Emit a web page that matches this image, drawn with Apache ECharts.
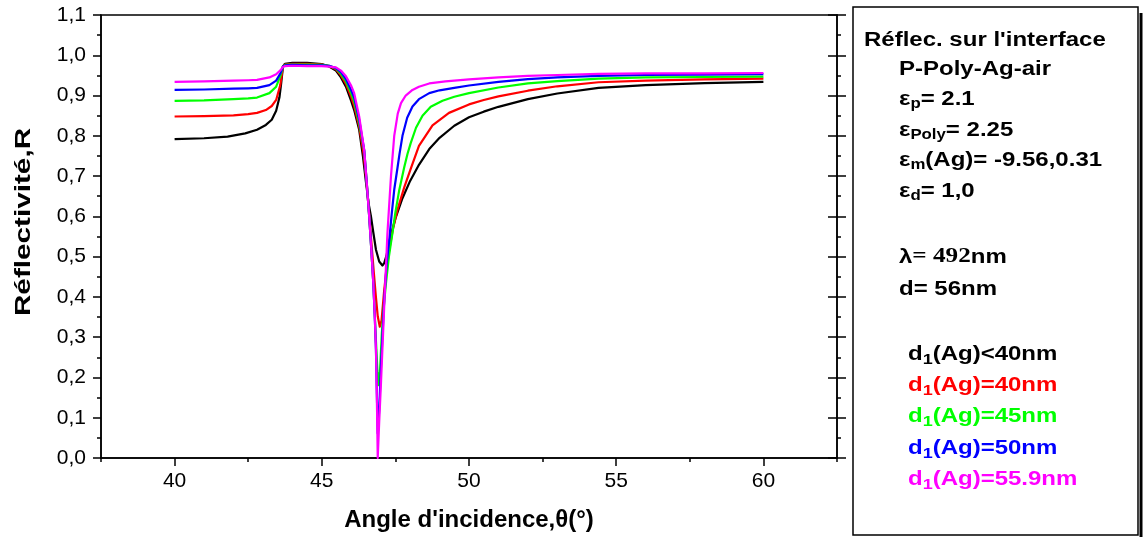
<!DOCTYPE html>
<html>
<head>
<meta charset="utf-8">
<script src="https://cdn.jsdelivr.net/npm/echarts@6/dist/echarts.min.js"></script>
<style>
html,body{margin:0;padding:0;background:#fff;}
#chart{width:1144px;height:537px;}
</style>
</head>
<body>
<div id="chart"></div>
<script>
// ---- data ----
const angleTicks = [40, 45, 50, 55, 60];
const angleMinorTicks = [37.5, 42.5, 47.5, 52.5, 57.5, 62.5];
const reflTickLabels = ['0,0','0,1','0,2','0,3','0,4','0,5','0,6','0,7','0,8','0,9','1,0','1,1'];

const seriesNames = ['d1(Ag)<40nm', 'd1(Ag)=40nm', 'd1(Ag)=45nm', 'd1(Ag)=50nm', 'd1(Ag)=55.9nm'];
const seriesColors = ['#000000', '#ff0000', '#00ff00', '#0000ff', '#ff00ff'];

const curveBlack = [
  [40,0.792],[41,0.794],[41.8,0.798],[42.4,0.806],[42.8,0.815],[43.1,0.827],[43.3,0.840],[43.45,0.862],
  [43.56,0.895],[43.62,0.930],[43.68,0.972],[43.75,0.979],[44,0.981],[44.5,0.981],[45,0.978],[45.25,0.972],
  [45.48,0.962],[45.65,0.945],[45.82,0.922],[46.0,0.886],[46.1,0.864],[46.27,0.815],[46.4,0.748],[46.5,0.685],
  [46.6,0.628],[46.67,0.600],[46.75,0.560],[46.84,0.517],[46.95,0.488],[47.06,0.478],[47.12,0.484],[47.2,0.503],
  [47.3,0.540],[47.5,0.595],[47.74,0.645],[48.0,0.688],[48.3,0.728],[48.65,0.767],[49.0,0.795],[49.5,0.825],
  [50,0.846],[50.5,0.860],[51,0.872],[52,0.891],[53,0.905],[54.4,0.919],[56,0.926],[58,0.931],[60,0.934]
];
const curveRed = [
  [40,0.848],[41,0.849],[42,0.851],[42.5,0.854],[42.8,0.857],[43.1,0.864],[43.3,0.874],[43.45,0.889],
  [43.59,0.926],[43.68,0.972],[43.75,0.977],[44,0.979],[44.5,0.979],[45,0.977],[45.25,0.973],[45.48,0.965],
  [45.65,0.950],[45.82,0.929],[46.0,0.896],[46.1,0.874],[46.27,0.823],[46.42,0.755],[46.52,0.685],[46.61,0.605],
  [46.69,0.530],[46.77,0.458],[46.84,0.398],[46.9,0.352],[46.97,0.326],[47.03,0.342],[47.12,0.417],[47.2,0.470],
  [47.29,0.517],[47.42,0.570],[47.57,0.616],[47.8,0.672],[48.02,0.718],[48.3,0.775],[48.76,0.826],[49.32,0.857],
  [50,0.878],[50.5,0.889],[51,0.898],[52,0.912],[53,0.923],[54.4,0.933],[56,0.937],[58,0.940],[60,0.942]
];
const curveGreen = [
  [40,0.887],[41,0.888],[42,0.891],[42.5,0.893],[42.8,0.895],[43.22,0.906],[43.45,0.922],[43.6,0.950],
  [43.68,0.972],[43.75,0.976],[44,0.977],[44.5,0.977],[45,0.976],[45.25,0.974],[45.48,0.967],[45.65,0.954],
  [45.82,0.935],[46.0,0.905],[46.1,0.885],[46.27,0.831],[46.44,0.762],[46.52,0.690],[46.61,0.600],[46.68,0.520],
  [46.75,0.434],[46.8,0.355],[46.84,0.290],[46.89,0.215],[46.93,0.181],[46.98,0.220],[47.04,0.310],[47.11,0.380],
  [47.18,0.434],[47.28,0.500],[47.4,0.559],[47.5,0.610],[47.63,0.665],[47.8,0.722],[47.91,0.755],[48.02,0.782],
  [48.2,0.820],[48.42,0.850],[48.7,0.872],[49.1,0.887],[49.5,0.897],[50,0.906],[51,0.920],[52,0.930],
  [53,0.936],[54.4,0.942],[56,0.945],[58,0.946],[60,0.947]
];
const curveBlue = [
  [40,0.914],[41,0.915],[42,0.917],[42.5,0.918],[42.8,0.919],[43.22,0.926],[43.45,0.937],[43.6,0.956],
  [43.68,0.972],[43.75,0.975],[44,0.976],[44.5,0.975],[45,0.975],[45.25,0.974],[45.48,0.968],[45.65,0.958],
  [45.82,0.941],[46.0,0.913],[46.1,0.895],[46.27,0.840],[46.44,0.765],[46.52,0.690],[46.61,0.600],[46.68,0.520],
  [46.75,0.434],[46.8,0.350],[46.84,0.268],[46.87,0.160],[46.9,0.061],[46.95,0.120],[47.01,0.227],[47.12,0.392],
  [47.2,0.480],[47.29,0.541],[47.38,0.610],[47.46,0.666],[47.57,0.720],[47.64,0.755],[47.74,0.800],[47.9,0.845],
  [48.08,0.873],[48.3,0.891],[48.65,0.906],[49,0.913],[49.5,0.919],[50,0.925],[51,0.934],[52,0.941],
  [53,0.945],[54.4,0.949],[56,0.951],[58,0.952],[60,0.953]
];
const curveMagenta = [
  [40,0.934],[41,0.935],[42,0.937],[42.5,0.938],[42.8,0.939],[43.22,0.945],[43.45,0.953],[43.6,0.963],
  [43.68,0.971],[43.75,0.973],[44,0.974],[44.5,0.973],[45,0.973],[45.25,0.972],[45.48,0.970],[45.65,0.962],
  [45.82,0.948],[46.0,0.924],[46.1,0.906],[46.27,0.848],[46.44,0.765],[46.52,0.690],[46.61,0.600],[46.68,0.520],
  [46.75,0.434],[46.8,0.350],[46.84,0.268],[46.87,0.150],[46.9,0.000],[46.95,0.090],[47.01,0.186],[47.12,0.376],
  [47.23,0.559],[47.35,0.700],[47.46,0.800],[47.58,0.855],[47.69,0.881],[47.85,0.900],[48.08,0.914],[48.3,0.922],
  [48.65,0.930],[49.2,0.935],[50,0.940],[51,0.945],[52,0.949],[53,0.951],[54.4,0.954],[56,0.955],
  [58,0.955],[60,0.956]
];
const curves = [curveBlack, curveRed, curveGreen, curveBlue, curveMagenta];

const FONT = '"Liberation Sans", Arial, sans-serif';

// ---- info box text (rich text) ----
const infoTitle = "Réflec. sur l'interface";
const infoLines = [
  '{b|P-Poly-Ag-air}',
  '{b|ε}{s|p}{b|= 2.1}',
  '{b|ε}{s|Poly}{b|= 2.25}',
  '{b|ε}{s|m}{b|(Ag)= -9.56,0.31}',
  '{b|ε}{s|d}{b|= 1,0}',
  '{b|λ}{r|= 492}{b|nm}',
  '{b|d= 56nm}'
];
const infoLineY = [69, 99, 130, 160, 191, 257, 289];
const legendY = [354, 385, 416, 448, 479];

const richStyles = {
  b: {fontSize: 20, fontWeight: 'bold', fontFamily: FONT, lineHeight: 26},
  r: {fontSize: 21, fontWeight: 'bold', fontFamily: '"Liberation Serif", "Times New Roman", serif', lineHeight: 26},
  s: {fontSize: 14, fontWeight: 'bold', fontFamily: FONT, lineHeight: 14, padding: [11, 0, 0, 0]}
};
const SX = 1.2;

const graphics = [];
// box
graphics.push({type: 'rect', shape: {x: 853, y: 7, width: 285, height: 528}, style: {fill: '#fff', stroke: '#000', lineWidth: 1.5}, z: 1});
graphics.push({type: 'rect', shape: {x: 1139.5, y: 13, width: 3, height: 524}, style: {fill: '#000'}, z: 1});
graphics.push({type: 'text', x: 864, y: 40, scaleX: SX, z: 5,
  style: {text: infoTitle, font: 'bold 20px ' + FONT, fill: '#000', align: 'left', verticalAlign: 'middle'}});
infoLines.forEach((t, i) => {
  graphics.push({type: 'text', x: 899, y: infoLineY[i], scaleX: SX, z: 5,
    style: {text: t, rich: richStyles, fill: '#000', align: 'left', verticalAlign: 'middle'}});
});
seriesNames.forEach((n, i) => {
  const rest = n.slice(2);
  const rs = {
    b: Object.assign({}, richStyles.b, {fill: seriesColors[i]}),
    s: Object.assign({}, richStyles.s, {fill: seriesColors[i], fontSize: 15, lineHeight: 15})
  };
  graphics.push({type: 'text', x: 908, y: legendY[i], scaleX: SX, z: 5,
    style: {text: '{b|d}{s|1}{b|' + rest + '}', rich: rs, align: 'left', verticalAlign: 'middle'}});
});
// y axis title
graphics.push({type: 'text', x: 24, y: 222, rotation: Math.PI / 2, scaleX: 1.35, z: 5,
  style: {text: 'Réflectivité,R', font: 'bold 22px ' + FONT, fill: '#000', align: 'center', verticalAlign: 'middle'}});

const chart = echarts.init(document.getElementById('chart'), null, {renderer: 'canvas'});
const axisLineStyle = {color: '#000', width: 1.5};

const option = {
  animation: false,
  backgroundColor: '#fff',
  grid: {left: 101, right: 307, top: 15, bottom: 79, show: true, borderColor: '#000', borderWidth: 1.5,
         containLabel: false, outerBoundsMode: 'none'},
  xAxis: [
    {type: 'value', position: 'bottom', min: 37.5, max: 62.5,
     axisLine: {show: true, onZero: false, lineStyle: axisLineStyle},
     axisTick: {show: true, customValues: angleTicks, length: 8, lineStyle: {color: '#000', width: 1.5}},
     axisLabel: {show: true, customValues: angleTicks, margin: 13, fontSize: 21, color: '#000', fontFamily: FONT},
     splitLine: {show: false},
     name: "Angle d'incidence,θ(°)", nameLocation: 'middle', nameGap: 50,
     nameTextStyle: {fontSize: 24, fontWeight: 'bold', color: '#000', fontFamily: FONT}},
    {type: 'value', position: 'bottom', min: 37.5, max: 62.5,
     axisLine: {show: false, onZero: false},
     axisTick: {show: true, customValues: angleMinorTicks, length: 4, lineStyle: {color: '#000', width: 1.5}},
     axisLabel: {show: false}, splitLine: {show: false}}
  ],
  yAxis: [
    {type: 'value', position: 'left', min: 0, max: 1.1, interval: 0.1,
     axisLine: {show: true, onZero: false, lineStyle: axisLineStyle},
     axisTick: {show: true, length: 8, lineStyle: {color: '#000', width: 1.5}},
     minorTick: {show: true, splitNumber: 2, length: 4, lineStyle: {color: '#000', width: 1.5}},
     axisLabel: {margin: 15, fontSize: 21, color: '#000', fontFamily: FONT,
       formatter: v => reflTickLabels[Math.round(v * 10)]},
     splitLine: {show: false}},
    {type: 'value', position: 'right', min: 0, max: 1.1, interval: 0.1,
     axisLine: {show: true, onZero: false, lineStyle: axisLineStyle},
     axisTick: {show: true, length: 9, lineStyle: {color: '#000', width: 1.5}},
     minorTick: {show: true, splitNumber: 2, length: 4, lineStyle: {color: '#000', width: 1.5}},
     axisLabel: {show: false}, splitLine: {show: false}},
    {type: 'value', position: 'right', min: 0, max: 1.1, interval: 0.1,
     axisLine: {show: false, onZero: false},
     axisTick: {show: true, inside: true, length: 9, lineStyle: {color: '#000', width: 1.5}},
     minorTick: {show: false},
     axisLabel: {show: false}, splitLine: {show: false}}
  ],
  series: curves.map((c, i) => ({
    type: 'line', name: seriesNames[i], data: c, xAxisIndex: 0, yAxisIndex: 0,
    showSymbol: false, symbol: 'none', smooth: false,
    lineStyle: {color: seriesColors[i], width: 2.2, join: 'round'}, z: 2 + i
  })),
  graphic: graphics
};
chart.setOption(option);
</script>
</body>
</html>
